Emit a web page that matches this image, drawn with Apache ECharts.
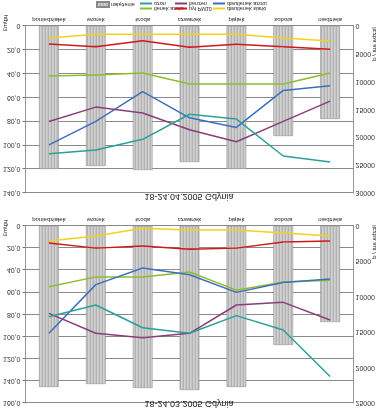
<!DOCTYPE html>
<html><head><meta charset="utf-8">
<script src="https://cdn.jsdelivr.net/npm/echarts@6/dist/echarts.min.js"></script>
<style>html,body{margin:0;padding:0;background:#fff;overflow:hidden}#c{width:378px;height:414px;transform:scaleY(-1);}</style>
</head><body><div id="c"></div><script>
const categories = ['poniedziałek','wtorek','środa','czwartek','piątek','sobota','niedziela'];
const leftTicks1 = [0,20,40,60,80,100,120,140,160];
const leftTicks2 = [0,20,40,60,80,100,120,140];
// Panel 1: 18-24.03.2005
const traffic1 = [22730,22310,22870,23160,22730,16800,13560];
const yellow1 = [13.5,9,2,3.6,3.6,6.3,9];
const red1 = [15.4,20,18,21,20,14.5,13.5];
const green1 = [55,46,46,41.6,58,50.6,49];
const blue1 = [97,53,38,44,60,51,48];
const purple1 = [79,97,101,97,71.4,69,85];
const teal1 = [82,71.4,92,97,81,94,136];
// Panel 2: 18-24.04.2005
const traffic2 = [25680,25140,25860,24430,25680,19760,16700];
const yellow2 = [10,7,7,7,7,10,12.5];
const red2 = [15,17.3,12.3,17.9,15.3,17.3,19.5];
const green2 = [42,41,39.4,48.6,48.6,48.6,39.4];
const blue2 = [99.7,80,55,77,85,54,50];
const purple2 = [80,68,73,87,97,80,63];
const teal2 = [107,104,95,74,78,109,114];

const names = {bar:'natężenie', teal:'ozon', purple:'benzen', blue:'dwutlenek azotu', green:'tlenek azotu', red:'pył PM10', yellow:'dwutlenek siarki'};
const colors = {teal:'#2b9f9c', purple:'#8a3d7c', blue:'#3c6fc0', green:'#8dbd2c', red:'#d01818', yellow:'#f2d21a'};

const pc = document.createElement('canvas'); pc.width=3; pc.height=1;
const pctx = pc.getContext('2d');
['#b2b2b2','#d2d2d2','#c6c6c6'].forEach((c,i)=>{pctx.fillStyle=c;pctx.fillRect(i,0,1,1);});
const barFill = {image: pc, repeat:'repeat'};

const chart = echarts.init(document.getElementById('c'), null, {renderer:'canvas'});
const grids = [{left:23, right:24, top:11, height:177}, {left:23, right:24, top:221, height:167}];
const fontAxis = {fontSize:7, color:'#333', fontFamily:'Liberation Sans'};
function xAx(i){return {type:'category', gridIndex:i, data:categories, axisTick:{show:false},
  axisLine:{lineStyle:{color:'#888'}}, axisLabel:{fontSize:6, color:'#222', margin:3, interval:0, fontFamily:'Liberation Sans'}};}
function yL(i,max){return {type:'value', gridIndex:i, min:0, max:max, interval:20,
  axisLine:{show:true, lineStyle:{color:'#999'}}, axisTick:{show:true, length:3, lineStyle:{color:'#777'}},
  splitLine:{lineStyle:{color:'#8a8a8a'}},
  axisLabel:Object.assign({margin:5, formatter:v=>v===0?'0':v+',0'}, fontAxis)};}
function yR(i,max){return {type:'value', gridIndex:i, position:'right', min:0, max:max, interval:5000,
  axisLine:{show:true, lineStyle:{color:'#999'}}, axisTick:{show:false}, splitLine:{show:false},
  axisLabel:Object.assign({margin:2, formatter:v=>String(v)}, fontAxis)};}

function lines(grid, data){
  const xi = grid, yi = grid*2;
  return ['yellow','red','green','blue','purple','teal'].map(k=>({
    type:'line', name:names[k], xAxisIndex:xi, yAxisIndex:yi, data:data[k], symbol:'none',
    lineStyle:{width:1.5, color:colors[k]}, itemStyle:{color:colors[k]}, z:3}));
}
const series = [
  {type:'bar', name:names.bar, xAxisIndex:0, yAxisIndex:1, data:traffic1, barWidth:'42%', itemStyle:{color:barFill, borderColor:'#888', borderWidth:0.5}},
  ...lines(0,{yellow:yellow1,red:red1,green:green1,blue:blue1,purple:purple1,teal:teal1}),
  {type:'bar', name:names.bar, xAxisIndex:1, yAxisIndex:3, data:traffic2, barWidth:'42%', itemStyle:{color:barFill, borderColor:'#888', borderWidth:0.5}},
  ...lines(1,{yellow:yellow2,red:red2,green:green2,blue:blue2,purple:purple2,teal:teal2})
];
function leg(name, left, cy, isBar){
  const h = isBar?5:2;
  return {data:[name], left:left, top:cy-h/2-1, itemWidth:12, itemHeight:h, icon:'rect', itemGap:0, padding:0,
    textStyle:{fontSize:5.5, color:'#222', padding:[0,0,0,-3], fontFamily:'Liberation Sans'}, selectedMode:false};
}
const legends = [
  leg(names.green,140,404.5), leg(names.red,175,404.5), leg(names.yellow,213,404.5),
  leg(names.bar,96,409.5,true), leg(names.teal,140,409.5), leg(names.purple,175,409.5), leg(names.blue,213,409.5)
];
function vtext(x,y,t){return {type:'text', x:x, y:y, rotation:Math.PI/2, style:{text:t, fontSize:6, fill:'#222', align:'center', verticalAlign:'middle', fontFamily:'Liberation Sans'}};}
chart.setOption({
  animation:false,
  title:[
    {text:'18-24.03.2005 Gdynia', left:'center', top:1, textStyle:{fontSize:9, fontWeight:'normal', color:'#222', fontFamily:'Liberation Sans'}},
    {text:'18-24.04.2005 Gdynia', left:'center', top:208, textStyle:{fontSize:9, fontWeight:'normal', color:'#222', fontFamily:'Liberation Sans'}}
  ],
  grid:grids,
  xAxis:[xAx(0), xAx(1)],
  yAxis:[yL(0,160), yR(0,25000), yL(1,140), yR(1,30000)],
  legend:legends,
  graphic:[vtext(5,186,'µg/m3'), vtext(374,172,'liczba aut / d'), vtext(5,391,'µg/m3'), vtext(374,370,'liczba aut / d')],
  series:series
});
</script></body></html>
